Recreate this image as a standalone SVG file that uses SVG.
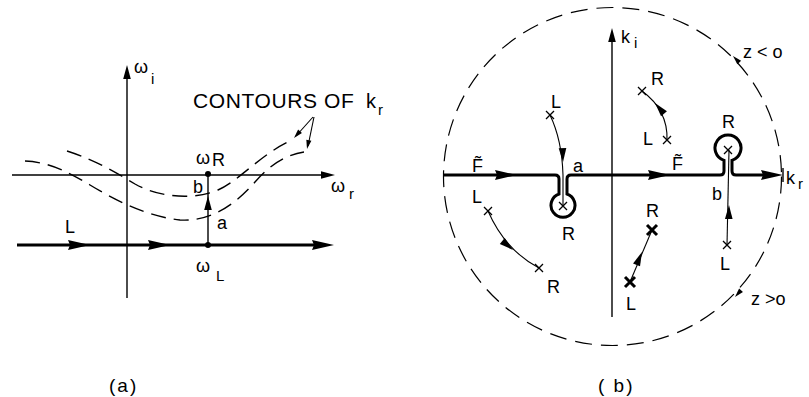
<svg xmlns="http://www.w3.org/2000/svg" xmlns:xlink="http://www.w3.org/1999/xlink" width="809" height="397" viewBox="0 0 809 397">
<style>
text{font-family:"Liberation Sans","DejaVu Sans",sans-serif;fill:#000;font-size:18px}
.sub{font-size:15px}
.cap{font-size:19px;letter-spacing:2px}
.ax{stroke:#000;stroke-width:1.4;fill:none}
.thin{stroke:#000;stroke-width:1.1;fill:none}
.thick{stroke:#000;stroke-width:3;fill:none}
.dash{stroke:#000;stroke-width:1.4;fill:none;stroke-dasharray:15 8}
.cross{stroke:#000;stroke-width:1.3}
.bcross{stroke:#000;stroke-width:3}
</style>
<defs>
<path id="ah" d="M0,0 L-22,-5 L-20,0 L-22,5 Z"/>
<path id="am" d="M0,0 L-14,-3.8 L-14,3.8 Z"/>
<path id="as" d="M0,0 L-9,-2.6 L-9,2.6 Z"/>
<path id="x" class="cross" d="M-4,-4 L4,4 M-4,4 L4,-4"/>
<path id="bx" class="bcross" d="M-5,-5 L5,5 M-5,5 L5,-5"/>
</defs>
<rect width="809" height="397" fill="#fff"/>

<!-- Panel (a) -->
<g id="panel-a">
<g id="a-axes">
<line class="ax" x1="12" y1="175" x2="325" y2="175"/>
<use xlink:href="#am" transform="translate(335,175)"/>
<line class="ax" x1="127" y1="298" x2="127" y2="75"/>
<use xlink:href="#am" transform="translate(127,65) rotate(-90)"/>
</g>
<g id="a-contours">
<path class="dash" d="M67,151 C95,160 115,172 135,184 C160,198 195,200 218,190 C240,180 260,155 290,141"/>
<path class="dash" d="M25,161 C50,162 70,173 90,185 C115,200 145,216 180,220 C210,222 235,205 255,182 C270,165 285,155 304,152"/>
<line class="thin" x1="313" y1="117" x2="296" y2="136"/>
<use xlink:href="#as" transform="translate(294,138) rotate(132)"/>
<line class="thin" x1="314" y1="117" x2="308" y2="146"/>
<use xlink:href="#as" transform="translate(307,149) rotate(102)"/>
</g>
<g id="a-path-L">
<line class="thick" x1="17" y1="245" x2="318" y2="245"/>
<use xlink:href="#ah" transform="translate(90,245)"/>
<use xlink:href="#ah" transform="translate(170,245)"/>
<use xlink:href="#ah" transform="translate(334,245)"/>
</g>
<g id="a-vertical">
<line class="ax" x1="208" y1="174" x2="208" y2="245"/>
<use xlink:href="#am" transform="translate(208,196) rotate(-90)"/>
<circle cx="208" cy="174" r="3"/>
<circle cx="208" cy="245" r="3"/>
</g>
<g id="a-labels">
<text x="134" y="73">ω</text><text class="sub" x="151" y="84">i</text>
<text x="331" y="192">ω</text><text class="sub" x="349" y="199">r</text>
<text x="196" y="164">ω</text><text x="212" y="166">R</text>
<text x="196" y="272">ω</text><text class="sub" x="216" y="281">L</text>
<text x="65" y="233">L</text>
<text x="193" y="193">b</text>
<text x="217" y="229">a</text>
<text x="193" y="108" style="font-size:21px;letter-spacing:0.6px">CONTOURS OF</text>
<text x="366" y="108" style="font-size:20px">k</text><text class="sub" x="378" y="115">r</text>
<text class="cap" x="109" y="392">(a)</text>
</g>
</g>

<!-- Panel (b) -->
<g id="panel-b">
<g id="b-circle">
<circle class="dash" cx="612.5" cy="176.5" r="169" style="stroke-width:1.2;stroke-dasharray:17 9"/>
<use xlink:href="#as" transform="translate(733,56) rotate(-134)"/>
<use xlink:href="#as" transform="translate(735,297) rotate(132)"/>
</g>
<g id="b-axes">
<line class="ax" x1="612" y1="317" x2="612" y2="40"/>
<use xlink:href="#am" transform="translate(612,28) rotate(-90)"/>
<line class="ax" x1="783" y1="168" x2="783" y2="182"/>
</g>
<g id="b-contour">
<path class="thick" stroke-width="3.2" d="M443,175 H555 Q559,175 559,179 V194 A12,12 0 1 0 567,194 V179 Q567,175 571,175 H720 Q724,175 724,171 V160.4 A13,13 0 1 1 732,160.4 V171 Q732,175 736,175 H770"/>
<use xlink:href="#ah" transform="translate(517,175)"/>
<use xlink:href="#ah" transform="translate(670,175)"/>
<use xlink:href="#ah" transform="translate(783,175)"/>
</g>
<g id="b-poles">
<use xlink:href="#x" transform="translate(563,206)"/>
<use xlink:href="#x" transform="translate(728,150)"/>
<use xlink:href="#x" transform="translate(550,115)"/>
<use xlink:href="#x" transform="translate(642,91)"/>
<use xlink:href="#x" transform="translate(667,140)"/>
<use xlink:href="#x" transform="translate(488,211)"/>
<use xlink:href="#x" transform="translate(539,268)"/>
<use xlink:href="#x" transform="translate(727,245)"/>
<use xlink:href="#bx" transform="translate(652,230)"/>
<use xlink:href="#bx" transform="translate(630,282)"/>
</g>
<g id="b-trajectories">
<path class="thin" d="M550,115 Q562,140 563,175 L563,206"/>
<use xlink:href="#am" transform="translate(563,162) rotate(88)"/>
<path class="thin" d="M727,245 L729,150"/>
<use xlink:href="#am" transform="translate(729,205) rotate(-89)"/>
<path class="thin" d="M667,140 Q668,110 642,91"/>
<use xlink:href="#am" transform="translate(655,103) rotate(-130)"/>
<path class="thin" d="M488,211 Q505,250 539,268"/>
<use xlink:href="#am" transform="translate(513,250) rotate(40)"/>
<path class="thin" d="M630,282 L652,230"/>
<use xlink:href="#am" transform="translate(642,252) rotate(-67)"/>
</g>
<g id="b-labels">
<text x="621" y="43">k</text><text class="sub" x="634" y="48">i</text>
<text x="786" y="184">k</text><text class="sub" x="798" y="189">r</text>
<text x="743" y="58">z &lt; o</text>
<text x="751" y="305">z &gt;o</text>
<text x="651" y="85">R</text>
<text x="551" y="108">L</text>
<text x="643" y="145">L</text>
<text x="722" y="128">R</text>
<text x="472" y="172">F̃</text>
<text x="672" y="170">F̃</text>
<text x="573" y="172">a</text>
<text x="712" y="200">b</text>
<text x="472" y="203">L</text>
<text x="562" y="240">R</text>
<text x="646" y="217">R</text>
<text x="626" y="310">L</text>
<text x="547" y="293">R</text>
<text x="720" y="270">L</text>
<text class="cap" x="598" y="392">( b)</text>
</g>
</g>
</svg>
